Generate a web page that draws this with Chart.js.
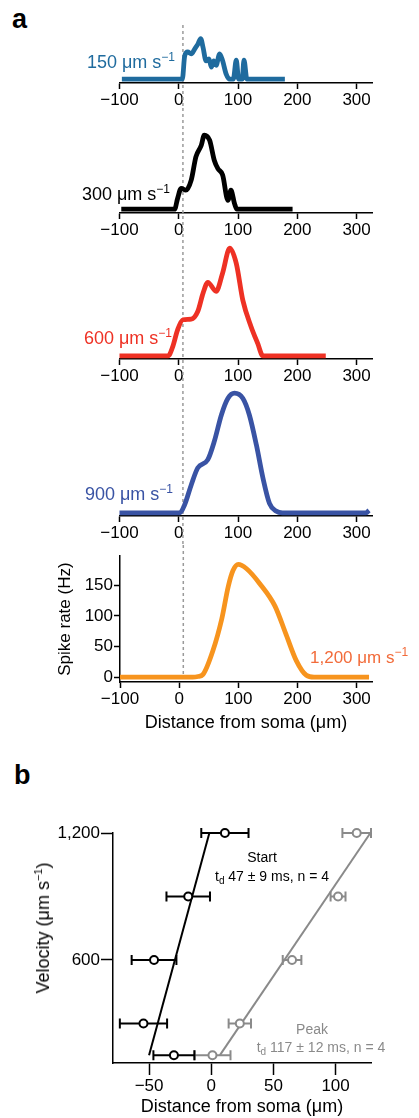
<!DOCTYPE html>
<html lang="en">
<head>
<meta charset="UTF-8">
<title>Spike rate along the dendrite</title>
<script src="https://cdn.jsdelivr.net/npm/chart.js"></script>
<style>
  body { margin: 0; background: #fff; font-family: 'Liberation Sans', Arial, sans-serif; }
  #fig { position: relative; width: 419px; height: 1118px; overflow: hidden; background: #fff; }
  canvas { position: absolute; left: 0; }
  .lbl { position: absolute; white-space: nowrap; font-size: 18px; line-height: 20px; }
  .lbl sup { font-size: 12px; vertical-align: 7px; line-height: 0; }
  .panel { position: absolute; font-weight: bold; font-size: 27px; line-height: 30px; }
  .note { position: absolute; white-space: nowrap; font-size: 14px; line-height: 16px; transform: translateX(-50%); }
  .note sub { font-size: 10px; vertical-align: -3px; line-height: 0; }
  .vtitle { position: absolute; white-space: nowrap; font-size: 18px; line-height: 20px; transform: translate(-50%, -50%) rotate(-90deg); }
  .vtitle sup { font-size: 11px; vertical-align: 7px; line-height: 0; }
</style>
</head>
<body>
<div id="fig">
  <div class="panel" style="left:12px; top:4px;">a</div>
  <div class="panel" style="left:14px; top:760px;">b</div>

  <canvas id="c150" width="419" height="108" style="top:0px"></canvas>
  <canvas id="c300" width="419" height="132" style="top:108px"></canvas>
  <canvas id="c600" width="419" height="145" style="top:240px"></canvas>
  <canvas id="c900" width="419" height="160" style="top:385px"></canvas>
  <canvas id="c1200" width="419" height="190" style="top:545px"></canvas>
  <canvas id="cVel" width="419" height="383" style="top:735px"></canvas>

  <div class="lbl" style="right:244px; top:52px; color:#1f6b9e;">150 μm s<sup>−1</sup></div>
  <div class="lbl" style="right:249px; top:184px; color:#000;">300 μm s<sup>−1</sup></div>
  <div class="lbl" style="right:247px; top:328px; color:#ee3124;">600 μm s<sup>−1</sup></div>
  <div class="lbl" style="right:246px; top:484px; color:#3953a4;">900 μm s<sup>−1</sup></div>
  <div class="lbl" style="left:310px; top:648px; color:#f26b3a; font-size:17px;">1,200 μm s<sup>−1</sup></div>

  <div class="vtitle" style="left:43px; top:928px;">Velocity (μm s<sup>−1</sup>)</div>
  <div class="note" style="left:262px; top:849px;">Start</div>
  <div class="note" style="left:272px; top:868px;">t<sub>d</sub> 47 ± 9 ms, n = 4</div>
  <div class="note" style="left:312px; top:1021px; color:#8a8a8a;">Peak</div>
  <div class="note" style="left:321px; top:1039px; color:#8a8a8a;">t<sub>d</sub> 117 ± 12 ms, n = 4</div>
</div>

<script>
  // ---- panel a: spike rate (Hz) vs distance from soma (um), one trace per velocity
  const distTicks = [-100, 0, 100, 200, 300];
  const rateTicks = [0, 50, 100, 150];
  const SOMA_X = 7; // dashed reference line

  const pos150  = [-96, 6, 10, 15, 21, 27, 32, 37, 41, 46, 51, 55, 59, 63, 69, 74, 80, 86, 92, 97, 101, 107, 110, 115, 179];
  const rate150 = [0, 0, 37, 43, 40, 48, 55, 64, 50, 29, 32, 19, 29, 22, 40, 29, 8, 0, 0, 30, 0, 0, 30, 0, 0];

  const pos300  = [-97, -7, -2, 4, 12, 21, 29, 38, 43, 52, 60, 66, 74, 83, 88, 94, 98, 192];
  const rate300 = [0, 0, 17, 33, 30, 46, 83, 101, 117, 109, 77, 64, 54, 14, 30, 9, 0, 0];

  const pos600  = [-100, -18, -10, -2, 7, 21, 32, 41, 49, 63, 74, 86, 97, 108, 122, 133, 142, 248];
  const rate600 = [0, 0, 15, 41, 57, 58, 70, 99, 116, 102, 131, 170, 146, 88, 46, 20, 0, 0];

  const pos900  = [-100, 2, 10, 21, 32, 49, 60, 72, 83, 94, 108, 119, 131, 142, 153, 164, 175, 316, 321];
  const rate900 = [0, 0, 13, 44, 71, 84, 113, 155, 181, 189, 181, 155, 107, 55, 15, 3, 0, 0, 4];

  const pos1200  = [-100, 23, 32, 40, 57, 72, 83, 91, 100, 114, 136, 162, 181, 198, 215, 228, 321];
  const rate1200 = [0, 0, 1, 4, 43, 95, 148, 174, 184, 177, 153, 116, 69, 27, 3, 0, 0];

  // ---- panel b: onset / peak position vs stimulus velocity
  const velocities = [150, 300, 600, 900, 1200];
  const startMean = [-30, -54.5, -46, -18.5, 11];
  const startErr  = [16.5, 19, 18, 17.5, 19];
  const peakMean  = [1, 23, 65, 102, 117];
  const peakErr   = [14.5, 9, 7.5, 6, 11.5];
  const fitVel    = [150, 1200];
  const startFit  = [-50, -1.5];
  const peakFit   = [7, 128];
  const velTicks  = [600, 1200];
  const posTicksB = [-50, 0, 50, 100];

  Chart.defaults.font.family = "'Liberation Sans', Arial, sans-serif";
  Chart.defaults.color = '#000';

  const PX_PER_HZ = 0.633;
  const fmt = v => v < 0 ? '\u2212' + Math.abs(v) : String(v);

  // dashed vertical line at the soma edge, drawn under the traces
  const somaLine = {
    id: 'somaLine',
    beforeDatasetsDraw(chart, args, opts) {
      const ctx = chart.ctx;
      const x = chart.scales.x.getPixelForValue(SOMA_X);
      const top = opts.top || 0;
      const bottom = opts.toZero ? chart.scales.y.getPixelForValue(0) : chart.height;
      ctx.save();
      ctx.strokeStyle = '#9a9a9a';
      ctx.lineWidth = 1.5;
      ctx.setLineDash([3, 3]);
      ctx.beginPath();
      ctx.moveTo(x, top);
      ctx.lineTo(x, bottom);
      ctx.stroke();
      ctx.restore();
    }
  };

  const axisGrid = { drawOnChartArea: false, tickLength: 6, tickColor: '#000', tickWidth: 1.5 };
  const axisBorder = { color: '#000', width: 1.5 };

  const panels = [
    { id: 'c150',  top: 0,   h: 108, axisY: 83,  yMin: -6, yMax: 80,    pos: pos150,  rate: rate150,  color: '#1f6b9e', dashTop: 25 },
    { id: 'c300',  top: 108, h: 132, axisY: 213, yMin: -6, yMax: 125,   pos: pos300,  rate: rate300,  color: '#000000' },
    { id: 'c600',  top: 240, h: 145, axisY: 359, yMin: -5, yMax: 180,   pos: pos600,  rate: rate600,  color: '#ee3124' },
    { id: 'c900',  top: 385, h: 160, axisY: 516, yMin: -5, yMax: 192,   pos: pos900,  rate: rate900,  color: '#3953a4' },
    { id: 'c1200', top: 545, h: 190, axisY: 682, yMin: -8, yMax: 197.5, pos: pos1200, rate: rate1200, color: '#f7941e', showY: true }
  ];

  panels.forEach(p => {
    const chartBottom = p.axisY - p.top;
    const padTop = chartBottom - (p.yMax - p.yMin) * PX_PER_HZ;
    new Chart(document.getElementById(p.id), {
      type: 'scatter',
      data: {
        datasets: [{
          data: p.pos.map((x, i) => ({ x: x, y: p.rate[i] })),
          showLine: true,
          borderColor: p.color,
          borderWidth: 4.8,
          pointRadius: 0,
          cubicInterpolationMode: 'monotone',
          borderJoinStyle: 'round',
          clip: false
        }]
      },
      options: {
        responsive: false,
        animation: false,
        events: [],
        layout: { padding: { left: p.showY ? 50 : 119.5, right: 47, top: padTop, bottom: 0 } },
        plugins: {
          legend: { display: false },
          tooltip: { enabled: false },
          somaLine: { top: p.dashTop || 0, toZero: !!p.showY }
        },
        scales: {
          x: {
            type: 'linear', min: -100, max: 326,
            afterFit: s => { s.height = p.h - chartBottom; },
            afterBuildTicks: s => { s.ticks = distTicks.map(v => ({ value: v })); },
            ticks: { callback: fmt, font: { size: 17 }, padding: 1, maxRotation: 0, autoSkip: false },
            grid: axisGrid,
            border: axisBorder,
            title: { display: !!p.showY, text: 'Distance from soma (μm)', font: { size: 18 }, padding: { top: 0, bottom: 1 } }
          },
          y: {
            display: !!p.showY,
            min: p.yMin, max: p.yMax,
            afterFit: s => { if (p.showY) s.width = 70; },
            afterBuildTicks: s => { s.ticks = rateTicks.map(v => ({ value: v })); },
            ticks: { font: { size: 17 }, padding: 1 },
            grid: axisGrid,
            border: axisBorder,
            title: { display: true, text: 'Spike rate (Hz)', font: { size: 17 }, padding: { top: 5, bottom: 0 } }
          }
        }
      },
      plugins: [somaLine]
    });
  });

  // horizontal error bars with end caps, drawn before the circles
  const errorBars = {
    id: 'errorBars',
    beforeDatasetsDraw(chart) {
      const ctx = chart.ctx;
      const xs = chart.scales.x, ys = chart.scales.y;
      chart.data.datasets.forEach(ds => {
        if (!ds.errX) return;
        ctx.save();
        ctx.strokeStyle = ds.borderColor;
        ctx.lineWidth = 2;
        ds.data.forEach((pt, i) => {
          const y = ys.getPixelForValue(pt.y);
          const x1 = xs.getPixelForValue(pt.x - ds.errX[i]);
          const x2 = xs.getPixelForValue(pt.x + ds.errX[i]);
          ctx.beginPath();
          ctx.moveTo(x1, y); ctx.lineTo(x2, y);
          ctx.moveTo(x1, y - 5); ctx.lineTo(x1, y + 5);
          ctx.moveTo(x2, y - 5); ctx.lineTo(x2, y + 5);
          ctx.stroke();
        });
        ctx.restore();
      });
    }
  };

  const BLACK = '#000000', GREY = '#8a8a8a';
  const pointSet = (means, errs, color) => ({
    data: means.map((m, i) => ({ x: m, y: velocities[i] })),
    errX: errs,
    borderColor: color,
    backgroundColor: '#ffffff',
    borderWidth: 2,
    pointRadius: 4,
    order: 0,
    clip: false
  });
  const fitSet = (xs, color) => ({
    data: xs.map((x, i) => ({ x: x, y: fitVel[i] })),
    showLine: true,
    borderColor: color,
    borderWidth: 2,
    pointRadius: 0,
    order: 1,
    clip: false
  });

  new Chart(document.getElementById('cVel'), {
    type: 'scatter',
    data: {
      datasets: [
        fitSet(peakFit, GREY),
        fitSet(startFit, BLACK),
        pointSet(peakMean, peakErr, GREY),
        pointSet(startMean, startErr, BLACK)
      ]
    },
    options: {
      responsive: false,
      animation: false,
      events: [],
      layout: { padding: { left: 0, right: 48, top: 98, bottom: 0 } },
      plugins: { legend: { display: false }, tooltip: { enabled: false } },
      scales: {
        x: {
          type: 'linear', min: -79, max: 128.5,
          afterFit: s => { s.height = 55; },
          afterBuildTicks: s => { s.ticks = posTicksB.map(v => ({ value: v })); },
          ticks: { callback: fmt, font: { size: 17 }, padding: 1, maxRotation: 0, autoSkip: false },
          grid: { drawOnChartArea: false, tickLength: 12, tickColor: '#000', tickWidth: 1.5 },
          border: axisBorder,
          title: { display: true, text: 'Distance from soma (μm)', font: { size: 18 }, padding: { top: 0, bottom: 0 } }
        },
        y: {
          min: 113, max: 1200,
          afterFit: s => { s.width = 113; },
          afterBuildTicks: s => { s.ticks = velTicks.map(v => ({ value: v })); },
          ticks: { callback: v => v.toLocaleString('en-US'), font: { size: 17 }, padding: 1 },
          grid: { drawOnChartArea: false, tickLength: 12, tickColor: '#000', tickWidth: 1.5 },
          border: axisBorder
        }
      }
    },
    plugins: [errorBars]
  });
</script>
</body>
</html>
